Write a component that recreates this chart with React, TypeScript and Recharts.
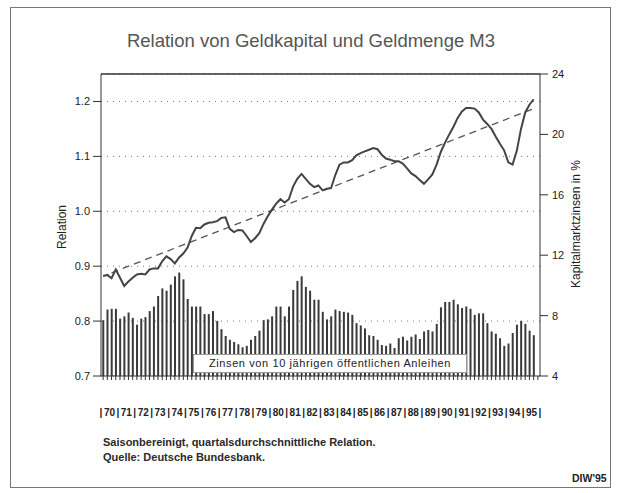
import React from 'react';
import { ComposedChart, Bar, Line, XAxis, YAxis, CartesianGrid, ReferenceLine } from 'recharts';

const years = ['70','71','72','73','74','75','76','77','78','79','80','81','82','83','84','85','86','87','88','89','90','91','92','93','94','95'];
const quarters = years.flatMap((y) => ['1', '2', '3', '4'].map((q) => `${y}/${q}`));

// Relation Geldkapital / M3 (left axis)
const relation = [
  0.882, 0.884, 0.878, 0.894, 0.879, 0.864, 0.872, 0.879, 0.885, 0.886,
  0.885, 0.894, 0.896, 0.896, 0.909, 0.918, 0.913, 0.905, 0.916, 0.923,
  0.934, 0.955, 0.970, 0.969, 0.976, 0.979, 0.980, 0.982, 0.988, 0.989,
  0.968, 0.962, 0.966, 0.965, 0.955, 0.944, 0.951, 0.960, 0.977, 0.991,
  1.003, 1.014, 1.022, 1.016, 1.022, 1.045, 1.059, 1.068, 1.059, 1.050,
  1.044, 1.047, 1.038, 1.041, 1.042, 1.066, 1.085, 1.089, 1.089, 1.093,
  1.102, 1.106, 1.109, 1.112, 1.115, 1.113, 1.103, 1.096, 1.094, 1.091,
  1.091, 1.087, 1.078, 1.069, 1.064, 1.057, 1.050, 1.058, 1.067, 1.085,
  1.108, 1.125, 1.140, 1.154, 1.170, 1.182, 1.188, 1.188, 1.187, 1.180,
  1.167, 1.159, 1.150, 1.136, 1.123, 1.111, 1.089, 1.085, 1.110, 1.150,
  1.180, 1.194, 1.204,
];

// Zinsen von 10jährigen öffentlichen Anleihen in % (right axis)
const rates = [
  7.7, 8.4, 8.45, 8.45, 7.8, 7.95, 8.2, 7.85, 7.4, 7.8,
  7.9, 8.3, 8.6, 9.3, 9.8, 9.65, 10.05, 10.6, 10.85, 10.4,
  9.1, 8.6, 8.6, 8.6, 8.1, 8.1, 8.3, 7.65, 7.1, 6.65,
  6.4, 6.25, 6.1, 5.9, 6.0, 6.4, 6.65, 7.0, 7.7, 7.75,
  7.95, 8.6, 8.6, 7.95, 8.6, 9.7, 10.3, 10.6, 9.9, 9.65,
  9.05, 9.05, 8.25, 7.75, 7.95, 8.4, 8.3, 8.25, 8.2, 8.05,
  7.5, 7.35, 7.15, 6.7, 6.65, 6.4, 6.05, 6.0, 6.15, 5.85,
  6.5, 6.6, 6.35, 6.6, 6.75, 6.45, 6.95, 7.05, 6.95, 7.45,
  8.55, 8.9, 8.9, 9.05, 8.75, 8.5, 8.6, 8.45, 8.05, 8.15,
  8.15, 7.5, 6.95, 6.8, 6.5, 6.0, 6.15, 6.85, 7.4, 7.65,
  7.45, 7.0, 6.7,
];

// Trend line endpoints (dashed)
const trendStartIndex = 2;
const trendStartValue = 0.888;
const trendEndIndex = 102;
const trendEndValue = 1.187;

const leftTicks = [0.7, 0.8, 0.9, 1.0, 1.1, 1.2];
const rightTicks = [4, 8, 12, 16, 20, 24];

const data = quarters.map((q, i) => ({
  q,
  relation: i < relation.length ? relation[i] : null,
  rate: i < rates.length ? rates[i] : null,
  trend: i === trendStartIndex ? trendStartValue : i === trendEndIndex ? trendEndValue : null,
}));

const FONT = '"Liberation Sans", Arial, Helvetica, sans-serif';
const INK = '#333';

const YearTick = (props: any) => {
  const { x, y, payload } = props;
  const i: number = payload?.index ?? props.index ?? 0;
  const half: number = typeof payload?.offset === 'number' && payload.offset > 0 ? payload.offset : 2.11;
  const band = half * 2;
  if (i % 4 !== 0) return <g />;
  const left = x - half;
  const yr = quarters[i].slice(0, 2);
  const ty = y + 34;
  const style = { fontFamily: FONT, fontSize: 10, fontWeight: 'bold', fill: '#222' } as any;
  return (
    <g>
      <text x={left} y={ty} textAnchor="middle" style={style}>|</text>
      <text x={left + band * 2} y={ty} textAnchor="middle" style={style}>{yr}</text>
      {i === quarters.length - 4 && (
        <text x={left + band * 4} y={ty} textAnchor="middle" style={style}>|</text>
      )}
    </g>
  );
};

export default function App() {
  return (
    <div style={{ position: 'absolute', left: 0, top: 0, width: 622, height: 493, background: '#fff', fontFamily: FONT }}>
      <div style={{ position: 'absolute', left: 10, top: 7, width: 601, height: 481, border: '1px solid #777', boxSizing: 'border-box' }} />
      <div style={{ position: 'absolute', left: 0, top: 30, width: 622, textAlign: 'center', fontSize: 18.5, color: '#555', fontFamily: FONT }}>
        Relation von Geldkapital und Geldmenge M3
      </div>
      <div style={{ position: 'absolute', left: 0, top: 0 }}>
        <ComposedChart
          width={622}
          height={493}
          data={data}
          margin={{ top: 74, left: 61, right: 42, bottom: 77 }}
          barCategoryGap="30%"
        >
          <CartesianGrid yAxisId="left" vertical={false} stroke="#777" strokeDasharray="1 5" />
          <XAxis
            dataKey="q"
            interval={0}
            height={40}
            tickSize={4}
            tickLine={{ stroke: INK }}
            axisLine={{ stroke: INK }}
            tick={<YearTick />}
          />
          <YAxis
            yAxisId="left"
            orientation="left"
            width={40}
            domain={[0.7, 1.25]}
            ticks={leftTicks}
            tickFormatter={(v: number) => v.toFixed(1)}
            tickSize={8}
            tickMargin={3}
            axisLine={{ stroke: INK }}
            tickLine={{ stroke: INK }}
            tick={{ fill: '#222', fontSize: 11, fontFamily: FONT }}
            allowDataOverflow
          />
          <YAxis
            yAxisId="right"
            orientation="right"
            width={40}
            domain={[4, 24]}
            ticks={rightTicks}
            tickSize={8}
            tickMargin={4}
            axisLine={{ stroke: INK }}
            tickLine={{ stroke: INK }}
            tick={{ fill: '#222', fontSize: 11, fontFamily: FONT }}
            allowDataOverflow
          />
          <ReferenceLine yAxisId="right" y={24} stroke={INK} strokeWidth={1.5} />
          <Bar yAxisId="right" dataKey="rate" fill="#3a3a3a" isAnimationActive={false} />
          <Line
            yAxisId="left"
            type="linear"
            dataKey="trend"
            stroke="#555"
            strokeWidth={1.3}
            strokeDasharray="7 5"
            dot={false}
            connectNulls
            isAnimationActive={false}
          />
          <Line
            yAxisId="left"
            type="linear"
            dataKey="relation"
            stroke="#444"
            strokeWidth={2}
            dot={false}
            isAnimationActive={false}
          />
        </ComposedChart>
      </div>
      <div
        style={{
          position: 'absolute', left: 193, top: 354, width: 274, height: 19, background: '#fff',
          border: '1px solid #999', boxSizing: 'border-box', textAlign: 'center', fontSize: 11,
          lineHeight: '17px', color: '#222', letterSpacing: 0.6,
        }}
      >
        Zinsen von 10 jährigen öffentlichen Anleihen
      </div>
      <div style={{ position: 'absolute', left: 62, top: 227, width: 0, height: 0 }}>
        <div style={{ position: 'absolute', transform: 'translate(-50%, -50%) rotate(-90deg)', whiteSpace: 'nowrap', fontSize: 12, color: '#222' }}>
          Relation
        </div>
      </div>
      <div style={{ position: 'absolute', left: 576, top: 224, width: 0, height: 0 }}>
        <div style={{ position: 'absolute', transform: 'translate(-50%, -50%) rotate(-90deg)', whiteSpace: 'nowrap', fontSize: 12, color: '#222' }}>
          Kapitalmarktzinsen in %
        </div>
      </div>
      <div style={{ position: 'absolute', left: 103, top: 435, fontSize: 11, fontWeight: 'bold', color: '#2a2a2a', lineHeight: '15px' }}>
        <div>Saisonbereinigt, quartalsdurchschnittliche Relation.</div>
        <div>Quelle: Deutsche Bundesbank.</div>
      </div>
      <div style={{ position: 'absolute', left: 572, top: 472, fontSize: 10.5, fontWeight: 'bold', color: '#222' }}>
        DIW'95
      </div>
    </div>
  );
}
